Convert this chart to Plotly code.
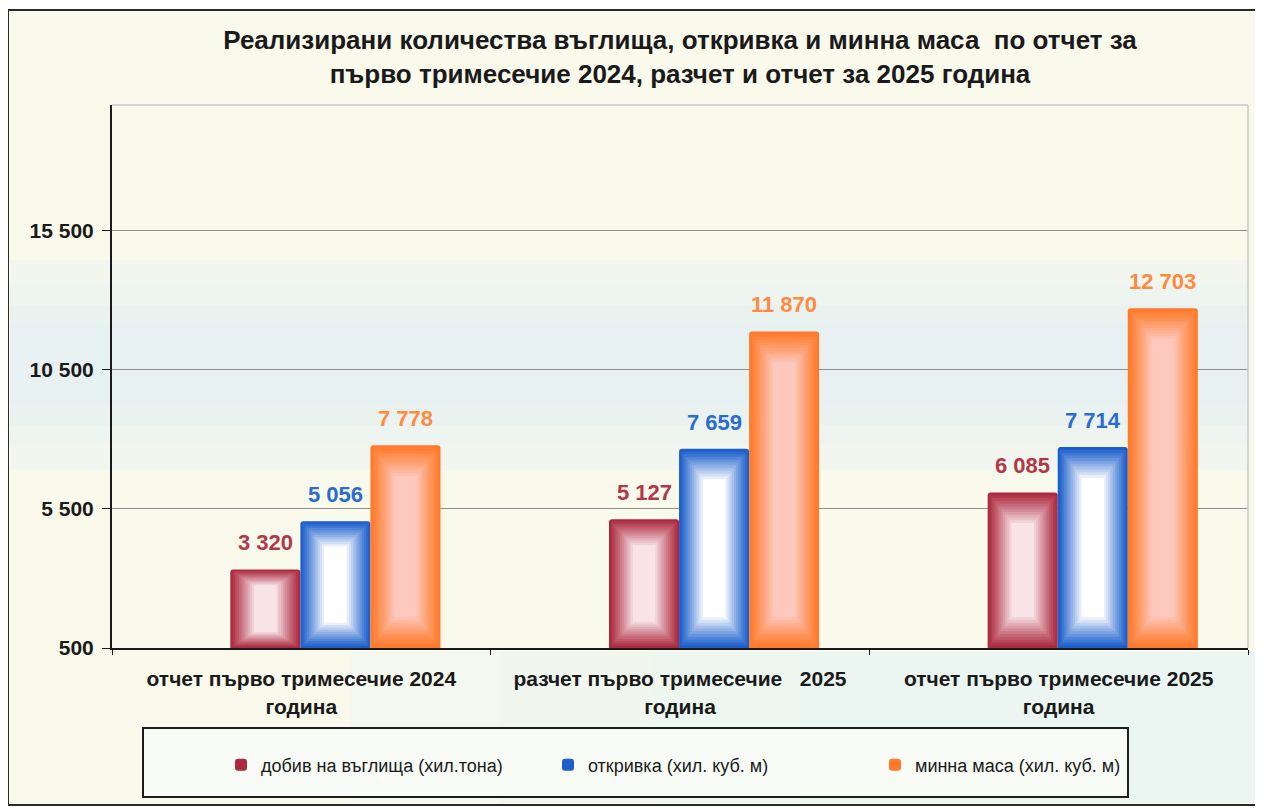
import plotly.graph_objects as go

# ---------------- data ----------------
categories = [
    "отчет първо тримесечие 2024<br>година",
    "разчет първо тримесечие\u00a0\u00a0 2025<br>година",
    "отчет първо тримесечие 2025<br>година",
]
series_names = [
    "добив на въглища (хил.тона)",
    "откривка (хил. куб. м)",
    "минна маса (хил. куб. м)",
]
coal = [3320, 5127, 6085]
overburden = [5056, 7659, 7714]
mining_mass = [7778, 11870, 12703]
series_values = [coal, overburden, mining_mass]

tick_vals = [500, 5500, 10500, 15500]
tick_text = ["500", "5 500", "10 500", "15 500"]

title_text = ("Реализирани количества въглища, откривка и минна маса  по отчет за<br>"
              "първо тримесечие 2024, разчет и отчет за 2025 година")

# ---------------- style ----------------
edge_colors = ["#ac2a40", "#1c5fcb", "#ff7a2a"]
center_colors = ["#f8e4e7", "#ffffff", "#fdc8bd"]
label_colors = ["#b03848", "#2a6cd0", "#ff8a40"]
bar_w = 0.185
group_shift = 0.09
offsets = [group_shift - 1.5 * bar_w + i * bar_w for i in range(3)]
y_min, y_max = 500, 20000

# the page places the figure 8px from the top-left corner
PAGE_OFF = 8
FIG_W, FIG_H = 1263 - PAGE_OFF, 808 - PAGE_OFF
PLOT_L, PLOT_R, PLOT_T, PLOT_B = 112, 1248, 105, 648  # page pixels


def hex_to_rgb(h):
    h = h.lstrip("#")
    return tuple(int(h[i:i + 2], 16) for i in (0, 2, 4))


def lerp_color(c1, c2, t):
    a, b = hex_to_rgb(c1), hex_to_rgb(c2)
    return "rgb(%d,%d,%d)" % tuple(round(a[i] + (b[i] - a[i]) * t) for i in range(3))


def fmt(v):
    return f"{v:,}".replace(",", " ")


def px_x(p):
    return (p - PLOT_L) / (PLOT_R - PLOT_L)


def px_y(p):
    return (PLOT_B - p) / (PLOT_B - PLOT_T)


fig = go.Figure()

# base bars (legend entries)
for s in range(3):
    fig.add_trace(go.Bar(
        x=categories, y=series_values[s], name=series_names[s],
        marker=dict(color=edge_colors[s], line=dict(width=0), cornerradius=3),
        width=[bar_w] * 3, offset=[offsets[s]] * 3,
        hovertemplate="%{y}<extra>" + series_names[s] + "</extra>",
    ))

# inner layers to mimic the glowing gradient fill
n_layers = 12
for s in range(3):
    for k in range(1, n_layers):
        t = k / (n_layers - 1)
        w = bar_w * (1 - 0.68 * t)
        off = offsets[s] + (bar_w - w) / 2
        bases, heights = [], []
        for v in series_values[s]:
            h = v - y_min
            inset = t * min(0.2 * h, 1100)
            bases.append(y_min + inset)
            heights.append(h - 2 * inset)
        fig.add_trace(go.Bar(
            x=categories, y=heights, base=bases,
            marker=dict(color=lerp_color(edge_colors[s], center_colors[s], t ** 1.1),
                        line=dict(width=0)),
            width=[w] * 3, offset=[off] * 3,
            showlegend=False, hoverinfo="skip",
        ))

# value labels
annotations = []
for s in range(3):
    for i, v in enumerate(series_values[s]):
        annotations.append(dict(
            x=i + offsets[s] + bar_w / 2, y=v, xref="x", yref="y",
            text="<b>" + fmt(v) + "</b>", showarrow=False,
            yanchor="bottom", yshift=12,
            font=dict(family="Liberation Sans, Arial", size=22, color=label_colors[s]),
        ))

shapes = [
    # outer frame
    dict(type="rect", xref="paper", yref="paper", layer="below",
         x0=px_x(8), x1=px_x(1258), y0=px_y(805), y1=px_y(10),
         line=dict(color="#2a2a2a", width=2), fillcolor="#f9f9ec"),
]
# soft light-blue band across the chart (stacked translucent strips)
for top, bot in [(260, 470), (285, 445), (305, 425), (325, 405)]:
    shapes.append(dict(type="rect", xref="paper", yref="paper", layer="below",
                       x0=px_x(10), x1=1, y0=px_y(bot), y1=px_y(top),
                       line=dict(width=0), fillcolor="rgba(222,239,248,0.22)"))
# soft light-blue zone below the plot on the right
for left in [350, 500, 650, 800]:
    shapes.append(dict(type="rect", xref="paper", yref="paper", layer="below",
                       x0=px_x(left), x1=px_x(1256), y0=px_y(803), y1=px_y(652),
                       line=dict(width=0), fillcolor="rgba(222,240,248,0.16)"))
shapes += [
    # light top and right border of plot
    dict(type="line", xref="paper", yref="paper", x0=0, x1=1, y0=1, y1=1,
         line=dict(color="#c9c9c9", width=1.5)),
    dict(type="line", xref="paper", yref="paper", x0=1, x1=1, y0=0, y1=1,
         line=dict(color="#c9c9c9", width=1.5)),
    # legend box
    dict(type="rect", xref="paper", yref="paper", layer="below",
         x0=px_x(143), x1=px_x(1128), y0=px_y(797), y1=px_y(728),
         line=dict(color="#1e1e1e", width=2), fillcolor="#f8fbf6"),
]

fig.update_layout(
    width=FIG_W, height=FIG_H,
    barmode="overlay",
    paper_bgcolor="white",
    plot_bgcolor="#fdf9e1",
    margin=dict(l=PLOT_L - PAGE_OFF, r=FIG_W - (PLOT_R - PAGE_OFF),
                t=PLOT_T - PAGE_OFF, b=FIG_H - (PLOT_B - PAGE_OFF), autoexpand=False),
    title=dict(text="<b>" + title_text + "</b>", x=0.5, xref="paper",
               y=1 - 41 / FIG_H, yref="container", yanchor="top",
               font=dict(family="Liberation Sans Narrow, Arial Narrow, Liberation Sans",
                         size=26, color="#1a1a1a")),
    font=dict(family="Liberation Sans, Arial", color="#1a1a1a"),
    xaxis=dict(
        type="category", showgrid=False, showline=True, linecolor="#1a1a1a", linewidth=2,
        ticks="outside", tickson="boundaries", ticklen=5, tickcolor="#1a1a1a",
        tickfont=dict(family="Liberation Sans, Arial", size=21, color="#1a1a1a",
                      weight="bold"),
        ticklabelstandoff=11,
        range=[-0.5, 2.5],
    ),
    yaxis=dict(
        range=[y_min, y_max], tickvals=tick_vals, ticktext=tick_text,
        showgrid=True, gridcolor="#8f8f8f", gridwidth=1,
        showline=True, linecolor="#1a1a1a", linewidth=2,
        ticks="outside", ticklen=8, tickcolor="#1a1a1a",
        tickfont=dict(family="Liberation Sans, Arial", size=21, color="#1a1a1a",
                      weight="bold"),
        ticklabelstandoff=4,
        zeroline=False,
    ),
    legend=dict(
        orientation="h", x=px_x(221), y=px_y(765), xanchor="left", yanchor="middle",
        bgcolor="rgba(0,0,0,0)", borderwidth=0,
        font=dict(family="Liberation Sans Narrow, Arial Narrow, Liberation Sans",
                  size=18, color="#1a1a1a"),
        entrywidth=282, entrywidthmode="pixels",
        traceorder="normal",
    ),
    shapes=shapes,
    annotations=annotations,
    showlegend=True,
)

fig.write_html("out.html")
